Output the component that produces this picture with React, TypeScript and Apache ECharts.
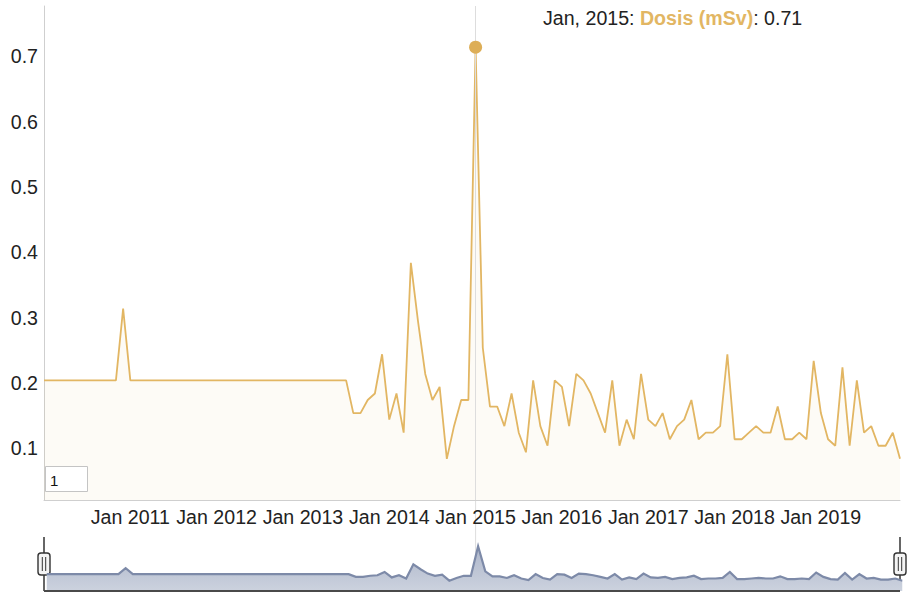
import React, { useEffect, useRef } from "react";
import * as echarts from "echarts";

const monthNames = ["Jan", "Feb", "Mar", "Apr", "May", "Jun", "Jul", "Aug", "Sep", "Oct", "Nov", "Dec"];
const years = [2010, 2011, 2012, 2013, 2014, 2015, 2016, 2017, 2018, 2019];

const dose2010 = [0.2, 0.2, 0.2, 0.2, 0.2, 0.2, 0.2, 0.2, 0.2, 0.2, 0.2, 0.31];
const dose2011 = [0.2, 0.2, 0.2, 0.2, 0.2, 0.2, 0.2, 0.2, 0.2, 0.2, 0.2, 0.2];
const dose2012 = [0.2, 0.2, 0.2, 0.2, 0.2, 0.2, 0.2, 0.2, 0.2, 0.2, 0.2, 0.2];
const dose2013 = [0.2, 0.2, 0.2, 0.2, 0.2, 0.2, 0.2, 0.15, 0.15, 0.17, 0.18, 0.24];
const dose2014 = [0.14, 0.18, 0.12, 0.38, 0.29, 0.21, 0.17, 0.19, 0.08, 0.13, 0.17, 0.17];
const dose2015 = [0.71, 0.25, 0.16, 0.16, 0.13, 0.18, 0.12, 0.09, 0.2, 0.13, 0.1, 0.2];
const dose2016 = [0.19, 0.13, 0.21, 0.2, 0.18, 0.15, 0.12, 0.2, 0.1, 0.14, 0.11, 0.21];
const dose2017 = [0.14, 0.13, 0.15, 0.11, 0.13, 0.14, 0.17, 0.11, 0.12, 0.12, 0.13, 0.24];
const dose2018 = [0.11, 0.11, 0.12, 0.13, 0.12, 0.12, 0.16, 0.11, 0.11, 0.12, 0.11, 0.23];
const dose2019 = [0.15, 0.11, 0.1, 0.22, 0.1, 0.2, 0.12, 0.13, 0.1, 0.1, 0.12, 0.08];

const yTickLabels = [0.1, 0.2, 0.3, 0.4, 0.5, 0.6, 0.7];
const highlighted = "Jan 2015";
const seriesName = "Dosis (mSv)";
const rollerValue = "1";

const categories: string[] = [];
years.forEach((y) => monthNames.forEach((m) => categories.push(`${m} ${y}`)));
const values = [
  ...dose2010, ...dose2011, ...dose2012, ...dose2013, ...dose2014,
  ...dose2015, ...dose2016, ...dose2017, ...dose2018, ...dose2019,
];

const GOLD = "#DDAE57";
const LINE_GOLD = "#E2B663";
const FONT = "'Liberation Sans', Arial, Helvetica, sans-serif";
const FS = 19.6;

export default function App() {
  const ref = useRef<HTMLDivElement>(null);
  useEffect(() => {
    if (!ref.current) return;
    const chart = echarts.init(ref.current, null, { renderer: "svg" });
    const hiIdx = categories.indexOf(highlighted);
    const hiVal = values[hiIdx];
    const sliderTop = 536;
    const sliderH = 55;

    const shadowArea = () => ({
      opacity: 1,
      color: new echarts.graphic.LinearGradient(0, 0, 0, 1, [
        { offset: 0, color: "#ccd2de" },
        { offset: 1, color: "#adb6ca" },
      ]),
    });

    const option: any = {
      animation: false,
      backgroundColor: "#ffffff",
      grid: { left: 44, right: 9, top: 6, bottom: 103, containLabel: false },
      xAxis: {
        type: "category",
        data: categories,
        boundaryGap: false,
        axisLine: { show: true, lineStyle: { color: "#cfcfcf", width: 1 } },
        axisTick: { show: false },
        splitLine: { show: false },
        axisLabel: {
          interval: (idx: number) => idx % 12 === 0 && idx > 0,
          margin: 7,
          color: "#222",
          fontSize: FS,
          fontFamily: FONT,
          hideOverlap: false,
        },
      },
      yAxis: {
        type: "value",
        min: 0.017,
        max: 0.773,
        splitNumber: 7,
        axisLine: { show: true, lineStyle: { color: "#cfcfcf", width: 1 } },
        axisTick: { show: false },
        splitLine: { show: false },
        axisLabel: {
          showMinLabel: false,
          showMaxLabel: false,
          margin: 6,
          color: "#222",
          fontSize: FS,
          fontFamily: FONT,
          formatter: (v: number) => {
            const t = yTickLabels.find((x) => Math.abs(x - v) < 1e-6);
            return t === undefined ? "" : `{v|${t.toFixed(1)}}`;
          },
          rich: {
            v: { fontSize: FS, fontFamily: FONT, color: "#222", padding: [5, 0, 0, 0] },
          },
        },
      },
      dataZoom: [
        {
          type: "slider",
          xAxisIndex: 0,
          start: 0,
          end: 100,
          left: 44,
          right: 9,
          top: sliderTop,
          height: sliderH,
          showDetail: false,
          brushSelect: false,
          moveHandleSize: 0,
          borderColor: "transparent",
          backgroundColor: "transparent",
          fillerColor: "rgba(0,0,0,0)",
          handleStyle: { opacity: 0 },
          emphasis: { handleStyle: { opacity: 0 } },
          dataBackground: {
            lineStyle: { color: "#7d8aa8", width: 2.2, opacity: 1 },
            areaStyle: shadowArea(),
          },
          selectedDataBackground: {
            lineStyle: { color: "#7d8aa8", width: 2.2, opacity: 1 },
            areaStyle: shadowArea(),
          },
        },
      ],
      series: [
        {
          name: seriesName,
          type: "line",
          data: values,
          showSymbol: false,
          symbol: "none",
          lineStyle: { color: LINE_GOLD, width: 1.8 },
          itemStyle: { color: LINE_GOLD },
          areaStyle: { color: GOLD, opacity: 0.05 },
          markLine: {
            silent: true,
            symbol: "none",
            label: { show: false },
            lineStyle: { color: "#dddddd", width: 1, type: "solid" },
            data: [{ xAxis: highlighted }],
          },
          markPoint: {
            silent: true,
            symbol: "circle",
            symbolSize: 13,
            label: { show: false },
            itemStyle: { color: GOLD },
            data: [{ coord: [highlighted, hiVal] }],
          },
        },
      ],
    };
    chart.setOption(option);

    const xHi = chart.convertToPixel({ xAxisIndex: 0 }, highlighted) as number;
    const xL = chart.convertToPixel({ xAxisIndex: 0 }, categories[0]) as number;
    const xR = chart.convertToPixel({ xAxisIndex: 0 }, categories[categories.length - 1]) as number;
    const sBottom = sliderTop + sliderH;

    const handle = (cx: number) => ({
      type: "group",
      z: 20,
      children: [
        { type: "line", shape: { x1: cx, y1: sliderTop + 1, x2: cx, y2: sBottom }, style: { stroke: "#333", lineWidth: 1.5 } },
        { type: "rect", shape: { x: cx - 6, y: sliderTop + 17, width: 12, height: 22, r: 3 }, style: { fill: "#f4f4f4", stroke: "#333", lineWidth: 1.4 } },
        { type: "line", shape: { x1: cx - 1.7, y1: sliderTop + 21, x2: cx - 1.7, y2: sliderTop + 35 }, style: { stroke: "#333", lineWidth: 1 } },
        { type: "line", shape: { x1: cx + 1.7, y1: sliderTop + 21, x2: cx + 1.7, y2: sliderTop + 35 }, style: { stroke: "#333", lineWidth: 1 } },
      ],
    });

    const monthName = highlighted.split(" ")[0];
    const yr = highlighted.split(" ")[1];

    chart.setOption({
      graphic: [
        {
          type: "line",
          z: -1,
          shape: { x1: xHi, y1: 500, x2: xHi, y2: sBottom },
          style: { stroke: "#dddddd", lineWidth: 1 },
        },
        {
          type: "line",
          z: 20,
          shape: { x1: xL, y1: sBottom, x2: xR, y2: sBottom },
          style: { stroke: "#4a4a4a", lineWidth: 2 },
        },
        handle(xL),
        handle(xR),
        {
          type: "rect",
          z: 10,
          shape: { x: 45.5, y: 466.5, width: 42, height: 25 },
          style: { fill: "#ffffff", stroke: "#c4c4c4", lineWidth: 1 },
        },
        {
          type: "text",
          z: 11,
          x: 50,
          y: 480,
          style: { text: rollerValue, font: `15px ${FONT}`, fill: "#111", verticalAlign: "middle", align: "left" },
        },
        {
          type: "text",
          z: 10,
          x: 543,
          y: 18,
          style: {
            text: `{d|${monthName}, ${yr}: }{s|${seriesName}}{d|: ${hiVal}}`,
            verticalAlign: "middle",
            align: "left",
            rich: {
              d: { fontSize: FS, fontFamily: FONT, fill: "#222", color: "#222" },
              s: { fontSize: FS, fontFamily: FONT, fontWeight: "bold", fill: LINE_GOLD, color: LINE_GOLD },
            },
          },
        },
      ],
    });

    return () => chart.dispose();
  }, []);

  return (
    <div
      ref={ref}
      style={{ position: "fixed", left: 0, top: 0, width: 909, height: 603, background: "#fff" }}
    />
  );
}
